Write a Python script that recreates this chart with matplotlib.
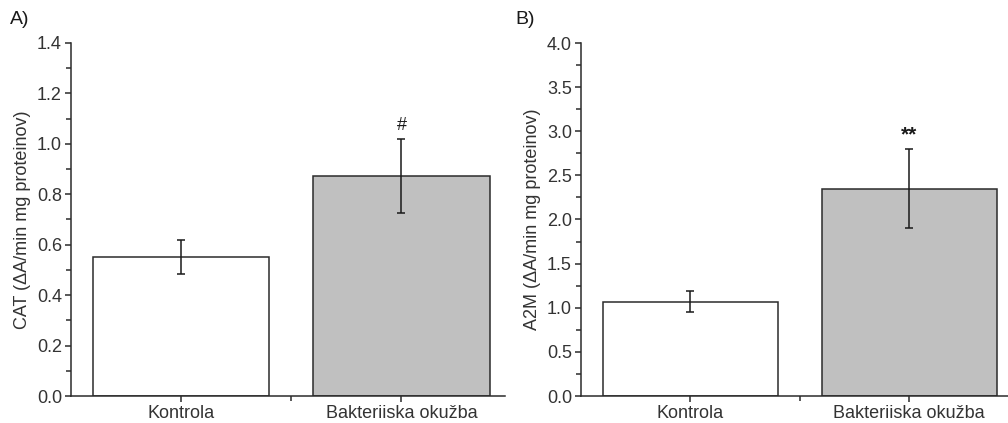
import matplotlib
matplotlib.use("Agg")
import matplotlib.pyplot as plt
from matplotlib.ticker import MultipleLocator, FixedLocator

plt.rcParams['font.family'] = ['Liberation Sans', 'DejaVu Sans']

categories = ["Kontrola", "Bakteriiska okužba"]
cat_means = [0.55, 0.873]
cat_errs = [0.067, 0.148]
a2m_means = [1.07, 2.35]
a2m_errs = [0.12, 0.45]
cat_marks = ["", "#"]
a2m_marks = ["", "**"]

fill_colors = ["white", "#c0c0c0"]
txt = "#333333"

fig = plt.figure(figsize=(10.08, 4.23), dpi=100)
axA = fig.add_axes([71/1008, 1-396/423, (505-71)/1008, (396-43)/423])
axB = fig.add_axes([581/1008, 1-396/423, (1012-581)/1008, (396-43)/423])

def draw(ax, means, errs, marks, ylim, major, minor, ylabel, mark_style):
    x = [1, 2]
    ax.bar(x, means, width=0.8, color=fill_colors, edgecolor="#2b2b2b", linewidth=1.1, zorder=2)
    ax.errorbar(x, means, yerr=errs, fmt="none", ecolor="#1a1a1a", elinewidth=1.1,
                capsize=3, capthick=1.1, zorder=3)
    for xi, m, e, mk in zip(x, means, errs, marks):
        if mk:
            ax.annotate(mk, xy=(xi, m + e), textcoords="offset points",
                        ha="center", va="bottom", color="#1a1a1a", **mark_style)
    ax.set_xlim(0.5, 2.47)
    ax.set_ylim(*ylim)
    ax.set_xticks(x)
    ax.set_xticklabels(categories, fontsize=13, color=txt)
    ax.xaxis.set_minor_locator(FixedLocator([1.5, 2.5]))
    ax.yaxis.set_major_locator(MultipleLocator(major))
    ax.yaxis.set_minor_locator(MultipleLocator(minor))
    ax.yaxis.set_major_formatter(matplotlib.ticker.FormatStrFormatter("%.1f"))
    for lab in ax.get_yticklabels():
        lab.set_fontsize(13)
        lab.set_color(txt)
    ax.tick_params(axis="both", which="major", direction="out", length=4.5, width=1.1,
                   color="#2b2b2b", pad=2)
    ax.tick_params(axis="both", which="minor", direction="out", length=3.5, width=1.1,
                   color="#2b2b2b")
    for s in ["top", "right"]:
        ax.spines[s].set_visible(False)
    for s in ["left", "bottom"]:
        ax.spines[s].set_linewidth(1.1)
        ax.spines[s].set_color("#2b2b2b")
    ax.set_ylabel(ylabel, fontsize=13, color=txt, labelpad=4)

draw(axA, cat_means, cat_errs, cat_marks, (0, 1.4), 0.2, 0.1,
     "CAT (ΔA/min mg proteinov)", dict(xytext=(0, 3), fontsize=13))
draw(axB, a2m_means, a2m_errs, a2m_marks, (0, 4.0), 0.5, 0.25,
     "A2M (ΔA/min mg proteinov)", dict(xytext=(0, 3), fontsize=15, fontweight="bold"))

fig.text(10/1008, 1-20/423, "A)", fontsize=14, color="#1a1a1a", va="center", ha="left")
fig.text(515/1008, 1-20/423, "B)", fontsize=14, color="#1a1a1a", va="center", ha="left")

fig.savefig("out.png", dpi=100)
